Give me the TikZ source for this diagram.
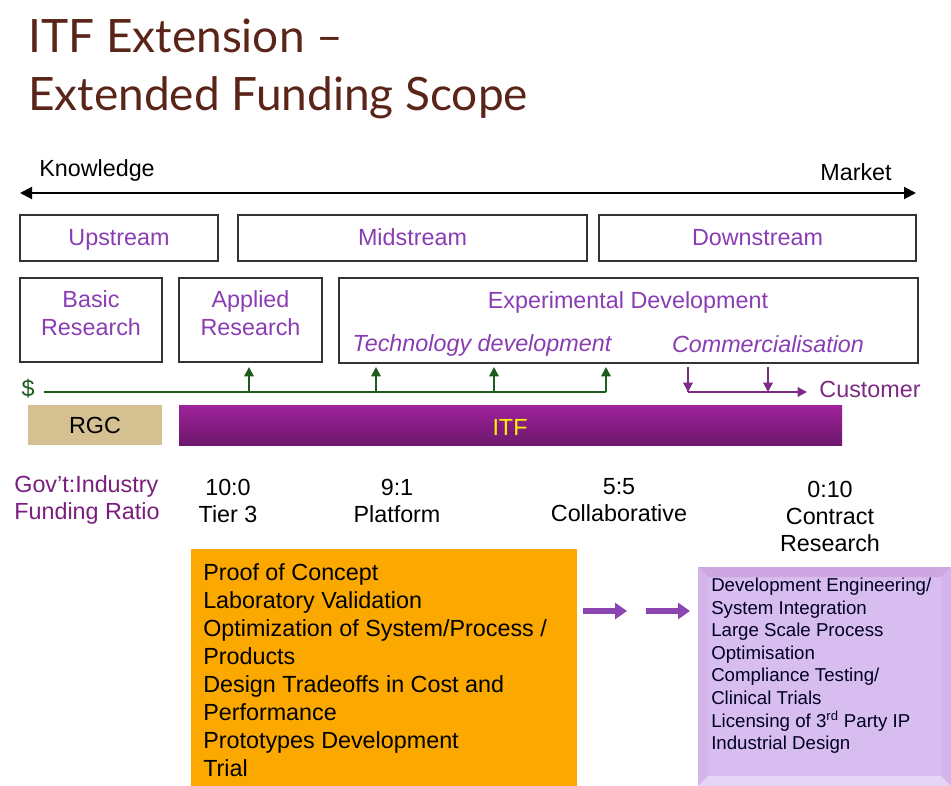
\documentclass[tikz,border=0pt]{standalone}
\usepackage{fontspec}
\setmainfont{Liberation Sans}
\newfontfamily\titlefont{Lato}
\usetikzlibrary{arrows.meta}

\definecolor{titlebrown}{HTML}{5A2418}
\definecolor{streamtxt}{HTML}{8A3DB3}
\definecolor{money}{HTML}{1E5C1E}
\definecolor{custpurple}{HTML}{7D2A82}
\definecolor{rgctan}{HTML}{D5C092}
\definecolor{itftop}{HTML}{A0229C}
\definecolor{itfbot}{HTML}{6C186C}
\definecolor{ratiotxt}{HTML}{7A1E7E}
\definecolor{orangebox}{HTML}{FBA900}
\definecolor{lavbox}{HTML}{D8BDF0}
\definecolor{flowpurple}{HTML}{8C44B0}

\newcommand{\pxu}{0.75pt}
\newcommand{\bigtxt}{\fontsize{17.5}{21}\selectfont}
\newcommand{\smalltxt}{\fontsize{14}{16.9}\selectfont}

\tikzstyle{stage}=[draw=black!80, line width=1.5pt, inner sep=0pt, text=streamtxt, font=\bigtxt, text height=12.6pt, text depth=1pt]
\tikzstyle{plain}=[inner sep=0pt, font=\bigtxt, align=center]
\tikzstyle{up}=[money, line width=1.5pt, -{Triangle[length=7pt,width=7pt]}]
\tikzstyle{down}=[custpurple, line width=1.5pt, -{Triangle[length=7pt,width=7pt]}]
\tikzstyle{fat}=[flowpurple, line width=5pt, -{Triangle[length=9pt,width=12pt]}]

\begin{document}
\begin{tikzpicture}[x=0.75pt, y=-0.75pt]
        \useasboundingbox (0,0) rectangle (951,786);

        % Title
        \node[anchor=base west, inner sep=0pt, text=titlebrown, font=\titlefont\fontsize{34.5}{42}\selectfont] (title1) at (28,52) {ITF Extension \textendash};
        \node[anchor=base west, inner sep=0pt, text=titlebrown, font=\titlefont\fontsize{34.5}{42}\selectfont] (title2) at (28,110) {Extended Funding Scope};

        % Knowledge <-> Market
        \node[plain] (know) at (97,170) {Knowledge};
        \node[plain] (mkt) at (856,172) {Market};
        \coordinate (kl) at (20,193);
        \coordinate (kr) at (916,193);
        \draw[line width=1.5pt, {Triangle[length=9pt,width=9pt]}-{Triangle[length=9pt,width=9pt]}] (kl) -- (kr);

        % Streams
        \node[stage, minimum width=198*\pxu, minimum height=46*\pxu] (upst) at (119,238) {Upstream};
        \node[stage, minimum width=349*\pxu, minimum height=46*\pxu] (midst) at (412.5,238) {Midstream};
        \node[stage, minimum width=317*\pxu, minimum height=46*\pxu] (downst) at (757.5,238) {Downstream};

        % Research stages
        \node[stage, minimum width=142*\pxu, minimum height=84*\pxu] (basic) at (91,320) {};
        \node[stage, minimum width=143*\pxu, minimum height=84*\pxu] (appl) at (250.5,320) {};
        \node[stage, minimum width=579*\pxu, minimum height=85*\pxu] (exper) at (628.5,320.5) {};
        \node[plain, text=streamtxt] (basict) at (91,313) {Basic\\Research};
        \node[plain, text=streamtxt] (applt) at (250.5,313) {Applied\\Research};
        \node[plain, text=streamtxt] (expert) at (628,302) {Experimental Development};
        \node[plain, text=streamtxt, font=\bigtxt\itshape] (tech) at (482,345) {Technology development};
        \node[plain, text=streamtxt, font=\bigtxt\itshape] (comm) at (768,344) {Commercialisation};

        % Money flow
        \node[plain, text=money] (dollar) at (28,389) {\$};
        \coordinate (g0) at (44,392);
        \coordinate (g4) at (606,392);
        \coordinate (g4t) at (606,367);
        \draw[money, line width=1.5pt] (g0) -- (g4);
        \draw[up] (g4) -- (g4t);
        \foreach \x in {249,376,494}
            \draw[up] (\x,392) -- (\x,367);

        % To the customer
        \node[plain, text=custpurple] (cust) at (870,389) {Customer};
        \coordinate (c0) at (688,392);
        \coordinate (c1) at (807,392);
        \draw[custpurple, line width=1.5pt] (688,367) -- (c0);
        \draw[down] (c0) -- (c1);
        \foreach \x in {688,768}
            \draw[down] (\x,367) -- (\x,392);

        % Funders
        \node[fill=rgctan, minimum width=134*\pxu, minimum height=40*\pxu, inner sep=0pt, font=\bigtxt] (rgc) at (95,425) {RGC};
        \node[top color=itftop, bottom color=itfbot, minimum width=663*\pxu, minimum height=40*\pxu, inner sep=0pt] (itf) at (510.5,425) {};
        \node[plain, text=yellow] (itft) at (510,427) {ITF};

        % Funding ratios
        \node[plain, align=left, text=ratiotxt, font=\fontsize{17.5}{20.25}\selectfont] (ratio) at (87,500) {Gov't:Industry\\Funding Ratio};
        \node[plain, font=\fontsize{17.5}{20.25}\selectfont] (tier) at (228,500.5) {10:0\\Tier 3};
        \node[plain, font=\fontsize{17.5}{20.25}\selectfont] (plat) at (397,500.5) {9:1\\Platform};
        \node[plain, font=\fontsize{17.5}{20.25}\selectfont] (coll) at (619,500.5) {5:5\\Collaborative};
        \node[plain, font=\fontsize{17.5}{20.25}\selectfont] (contr) at (830,516) {0:10\\Contract\\Research};

        % Activities
        \node[fill=orangebox, minimum width=386*\pxu, minimum height=242*\pxu, inner sep=0pt] (orange) at (384,670) {};
        \node[anchor=north west, inner sep=0pt, align=left, font=\bigtxt] (orangetxt) at (203,563) {Proof of Concept\\Laboratory Validation\\Optimization of System/Process /\\Products\\Design Tradeoffs in Cost and\\Performance\\Prototypes Development\\Trial};

        \node[fill=lavbox, minimum width=253*\pxu, minimum height=219*\pxu, inner sep=0pt] (lav) at (824.5,676.5) {};
        \fill[lavbox!88!violet] (698,567) -- (951,567) -- (941,577) -- (708,577) -- cycle;
        \fill[lavbox!95!violet] (698,567) -- (708,577) -- (708,776) -- (698,786) -- cycle;
        \fill[lavbox!95!violet] (951,567) -- (941,577) -- (941,776) -- (951,786) -- cycle;
        \fill[lavbox!65!white] (698,786) -- (708,776) -- (941,776) -- (951,786) -- cycle;
        \node[anchor=north west, inner sep=0pt, align=left, text=black!85!blue, font=\smalltxt] (lavtxt) at (711,578) {Development Engineering/\\System Integration\\Large Scale Process\\Optimisation\\Compliance Testing/\\Clinical Trials\\Licensing of 3\textsuperscript{rd} Party IP\\Industrial Design};

        % Arrows in between
        \coordinate (f0) at (583,611);
        \coordinate (f1) at (627,611);
        \coordinate (f2) at (646,611);
        \coordinate (f3) at (690,611);
        \draw[fat] (f0) -- (f1);
        \draw[fat] (f2) -- (f3);
    \end{tikzpicture}
\end{document}
